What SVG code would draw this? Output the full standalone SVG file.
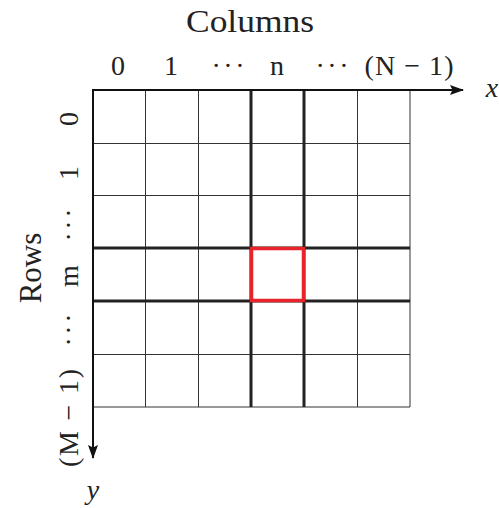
<svg xmlns="http://www.w3.org/2000/svg" width="499" height="508" viewBox="0 0 499 508">
<style>
text{font-family:"Liberation Serif","DejaVu Serif",serif;fill:#222;}
.t{font-size:31px;}
.l{font-size:28px;}
.v{font-size:28px;font-style:italic;}
.thin{stroke:#333;stroke-width:1;fill:none;}
.thick{stroke:#222;stroke-width:3;fill:none;}
.ax{stroke:#111;stroke-width:2;fill:none;}
</style>
<defs>
<marker id="ah" viewBox="0 0 14 12" refX="13" refY="6" markerWidth="14" markerHeight="12" orient="auto" markerUnits="userSpaceOnUse">
<path d="M0,1 L14,6 L0,11 L2.5,6 Z" fill="#111"/>
</marker>
</defs>
<g id="grid">
<path class="thin" d="M145.5,90V407M198.5,90V407M357.5,90V407M410,90V407M93,143.5H410M93,195.5H410M93,354.5H410M93,407H410"/>
<path class="thick" d="M251,90V407M304,90V407M93,248H410M93,301H410"/>
</g>
<g id="highlight">
<rect x="251.5" y="248.5" width="52" height="52" fill="none" stroke="#e8232a" stroke-width="3.5"/>
</g>
<g id="axes">
<line class="ax" x1="92" y1="90" x2="463" y2="90" marker-end="url(#ah)"/>
<line class="ax" x1="93" y1="89" x2="93" y2="458" marker-end="url(#ah)"/>
</g>
<g id="labels">
<text class="t" x="250" y="32" text-anchor="middle" textLength="128" lengthAdjust="spacingAndGlyphs">Columns</text>
<text class="l" x="118" y="75" text-anchor="middle">0</text>
<text class="l" x="171" y="75" text-anchor="middle">1</text>
<text class="l" x="228" y="75" text-anchor="middle" textLength="33" lengthAdjust="spacing">· · ·</text>
<text class="l" x="277" y="75" text-anchor="middle">n</text>
<text class="l" x="332" y="75" text-anchor="middle" textLength="33" lengthAdjust="spacing">· · ·</text>
<text class="l" x="409" y="75" text-anchor="middle" textLength="89" lengthAdjust="spacing">(N − 1)</text>
<text class="v" x="492" y="97" text-anchor="middle">x</text>
<text class="v" x="93" y="499" text-anchor="middle">y</text>
<g transform="translate(41,268) rotate(-90)"><text class="t" x="0" y="0" text-anchor="middle">Rows</text></g>
<g transform="translate(78,0) rotate(-90)">
<text class="l" x="-119" y="0" text-anchor="middle">0</text>
<text class="l" x="-173" y="0" text-anchor="middle">1</text>
<text class="l" x="-225" y="0" text-anchor="middle" textLength="33" lengthAdjust="spacing">· · ·</text>
<text class="l" x="-276" y="0" text-anchor="middle">m</text>
<text class="l" x="-330" y="0" text-anchor="middle" textLength="33" lengthAdjust="spacing">· · ·</text>
<text class="l" x="-418" y="0" text-anchor="middle" textLength="98" lengthAdjust="spacing">(M − 1)</text>
</g>
</g>
</svg>
